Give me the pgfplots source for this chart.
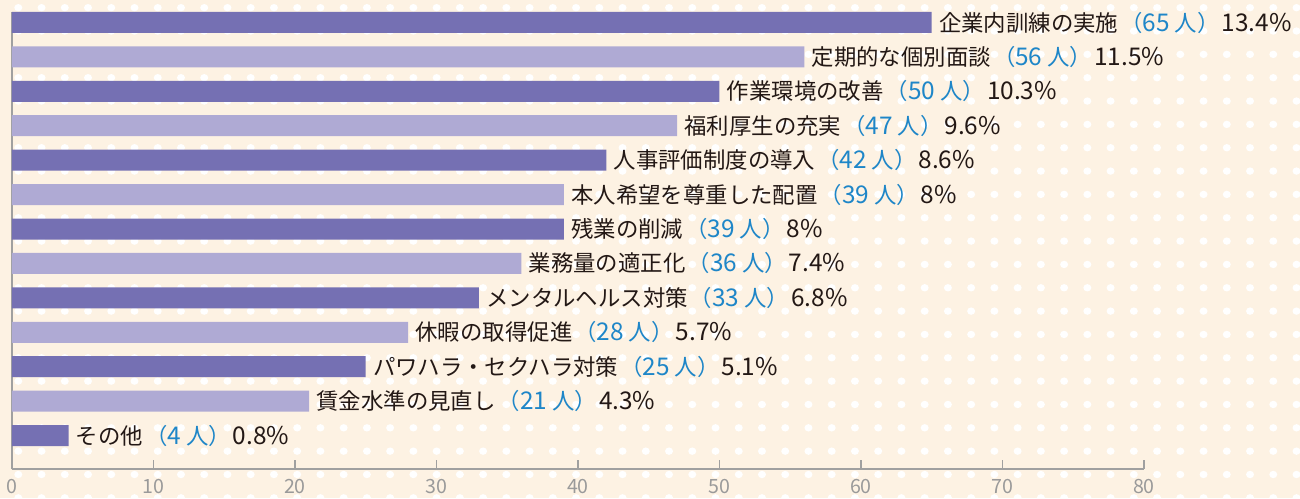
\documentclass[border=0pt]{standalone}
\usepackage{fontspec}
\setmainfont{Noto Sans CJK JP}
\usepackage{pgfplots}
\usepackage{pgfplotstable}
\pgfplotsset{compat=1.18}
\definecolor{bg}{HTML}{FDF2E3}
\definecolor{darkbar}{HTML}{7570B3}
\definecolor{lightbar}{HTML}{AFAAD4}
\definecolor{cblue}{HTML}{1E86C8}
\definecolor{tickgray}{HTML}{9A9A9A}
\definecolor{axgray}{HTML}{A0A0A0}
\definecolor{lblack}{HTML}{231815}
\newcommand{\dg}{\fontsize{12.2}{13}\selectfont}

\pgfplotstableread[col sep=comma]{
idx,n,pct,name
12,65,13.4,企業内訓練の実施
10,50,10.3,作業環境の改善
8,42,8.6,人事評価制度の導入
6,39,8,残業の削減
4,33,6.8,メンタルヘルス対策
2,25,5.1,パワハラ・セクハラ対策
0,4,0.8,その他
}\darktable

\pgfplotstableread[col sep=comma]{
idx,n,pct,name
11,56,11.5,定期的な個別面談
9,47,9.6,福利厚生の充実
7,39,8,本人希望を尊重した配置
5,36,7.4,業務量の適正化
3,28,5.7,休暇の取得促進
1,21,4.3,賃金水準の見直し
}\lighttable

\begin{document}
\begin{tikzpicture}
\useasboundingbox (0,0) rectangle (650pt,249pt);
\fill[bg] (0,0) rectangle (650pt,249pt);
\foreach \i in {0,...,55}{
  \foreach \j in {0,...,21}{
    \fill[white] ({9.15pt+\i*11.62pt},{245.15pt-\j*11.67pt}) ellipse (2pt and 1.85pt);
  }
}
\begin{axis}[
  at={(6pt,14.5pt)}, anchor=south west,
  scale only axis, width=566pt, height=228.5pt,
  xmin=0, xmax=80, ymin=-0.973, ymax=12.305,
  xbar, bar width=10.5pt,
  axis x line*=bottom, axis y line*=left,
  axis line style={-, draw=axgray, line width=0.6pt},
  ytick=\empty,
  xtick={0,10,...,80},
  xtick align=inside,
  major tick length=4.5pt,
  tick style={draw=axgray, line width=0.6pt},
  /pgf/number format/assume math mode=true,
  xticklabel style={font=\fontsize{9.8}{11}\selectfont, text=tickgray, inner sep=0pt, yshift=-5pt},
  point meta=explicit symbolic,
  nodes near coords={\pgfplotspointmeta\kern1pt\textcolor{cblue}{（{\dg\pgfmathprintnumber[fixed,precision=0]{\mynum}}\ 人）}\kern1pt{\dg\pgfmathprintnumber[fixed,precision=1]{\mypct}\%}},
  every node near coord/.append style={anchor=west, inner sep=0pt, xshift=3.5pt, text=lblack, font=\fontsize{11.2}{13}\selectfont},
  visualization depends on={\thisrow{pct}\as\mypct},
  visualization depends on={\thisrow{n}\as\mynum},
]
\addplot[fill=darkbar, draw=none, bar shift=0pt] table[x=n, y=idx, meta=name]{\darktable};
\addplot[fill=lightbar, draw=none, bar shift=0pt] table[x=n, y=idx, meta=name]{\lighttable};
\end{axis}
\end{tikzpicture}
\end{document}
